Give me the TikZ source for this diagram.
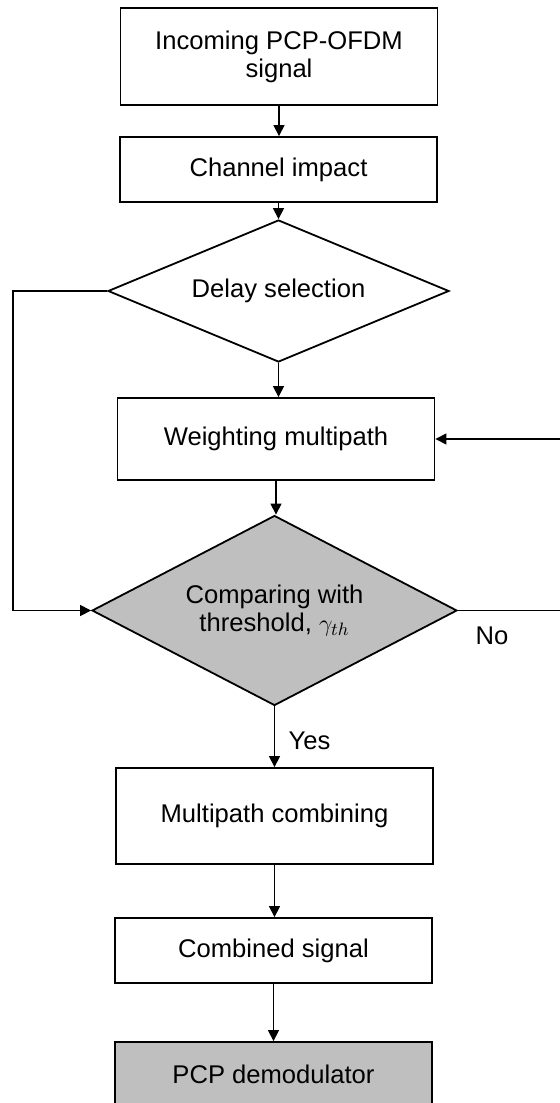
\documentclass[tikz,border=0pt]{standalone}
\usepackage{fontspec}
\setmainfont{Liberation Sans}
\usetikzlibrary{shapes.geometric,arrows.meta}
\begin{document}
\begin{tikzpicture}[x=0.5pt,y=-0.5pt,
    font=\fontsize{12.8}{14}\selectfont,
    block/.style={draw,line width=0.9pt,align=center,inner sep=0pt,minimum width=158.5pt},
    decision/.style={draw,diamond,line width=0.9pt,align=center,inner sep=0pt},
    shaded/.style={fill=black!25},
    flow/.style={line width=0.6pt,-{Triangle[length=5.5pt,width=5.5pt]}}]
    \useasboundingbox (0,0) rectangle (560,1103);
    \node (incoming) [block,minimum height=48.5pt] at (279,56.5) {Incoming PCP-OFDM\\signal};
    \node (channel) [block,minimum height=32.5pt] at (278.5,169.5) {Channel impact};
    \node (delay) [decision,aspect=2.4,minimum width=170.5pt,minimum height=71pt] at (278.5,291) {Delay selection};
    \node (weighting) [block,minimum height=41pt] at (276,439) {Weighting multipath};
    \node (compare) [decision,shaded,aspect=1.92,minimum width=182.5pt,minimum height=95pt] at (274.5,610.5) {Comparing with\\threshold, $\gamma_{th}$};
    \node (combining) [block,minimum height=48pt] at (274.5,816) {Multipath combining};
    \node (combined) [block,minimum height=32.5pt] at (273.5,950.5) {Combined signal};
    \node (demod) [block,shaded,minimum height=32.5pt] at (273.5,1074.5) {PCP demodulator};
    \coordinate (leftrail) at (13,0);
    \coordinate (rightrail) at (561,0);
    \draw [flow] (incoming) -- (incoming.south |- channel.north);
    \draw [flow] (channel) -- (channel.south |- delay.north);
    \draw [flow] (delay.south) -- (delay.south |- weighting.north);
    \draw [flow] (weighting.south) -- (weighting.south |- compare.north);
    \draw [flow] (compare.south) -- (compare.south |- combining.north)
        node [pos=0.57,right=6.75pt,inner sep=0pt] {Yes};
    \draw [flow] (combining.south) -- (combining.south |- combined.north);
    \draw [flow] (combined.south) -- (combined.south |- demod.north);
    \draw [flow] (delay.west) -- (delay.west -| leftrail) |- (compare.west);
    \draw [flow] (compare.east) -- node [pos=0.33,below=8pt,inner sep=0pt] {No}
        (compare.east -| rightrail) |- (weighting.east);
\end{tikzpicture}
\end{document}
